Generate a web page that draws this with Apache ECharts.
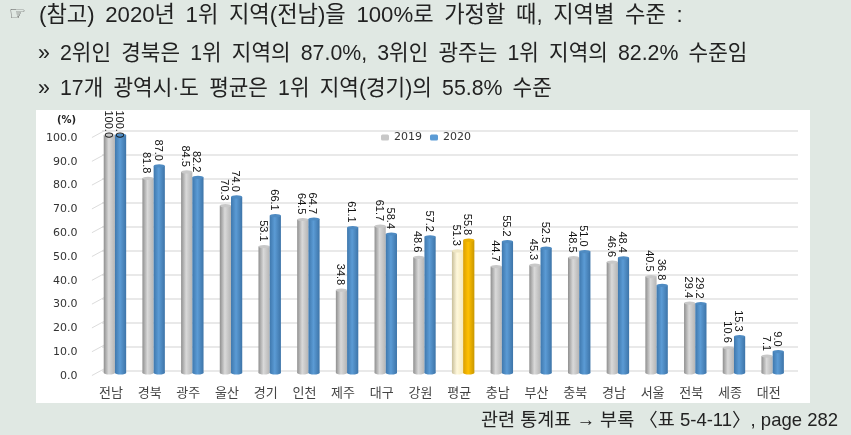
<!DOCTYPE html>
<html>
<head>
<meta charset="utf-8">
<style>html,body{margin:0;padding:0;background:#e0e8e3}#chart{width:851px;height:435px}</style>
<script src="https://cdn.jsdelivr.net/npm/echarts@6/dist/echarts.min.js"></script>
</head>
<body>
<div id="chart"></div>
<script>
const categories = ['전남','경북','광주','울산','경기','인천','제주','대구','강원','평균','충남','부산','충북','경남','서울','전북','세종','대전'];
const values2019 = [100.0,81.8,84.5,70.3,53.1,64.5,34.8,61.7,48.6,51.3,44.7,45.3,48.5,46.6,40.5,29.4,10.6,7.1];
const values2020 = [100.0,87.0,82.2,74.0,66.1,64.7,61.1,58.4,57.2,55.8,55.2,52.5,51.0,48.4,36.8,29.2,15.3,9.0];
const yTicks = [0,10,20,30,40,50,60,70,80,90,100];
// word gaps in the heading are wider than one space
const gap = ' \u2009';
const headLines = [
  ['(참고)','2020년','1위','지역(전남)을','100%로','가정할','때,','지역별','수준',':'].join(gap),
  ['»','2위인','경북은','1위','지역의','87.0%,','3위인','광주는','1위','지역의','82.2%','수준임'].join(gap),
  ['»','17개','광역시·도','평균은','1위','지역(경기)의','55.8%','수준'].join(gap)
];
const footNote = '관련 통계표 → 부록 〈표 5-4-11〉, page 282';

const KR = '"Noto Sans CJK KR","Noto Sans",sans-serif';
const HEAD = '"Liberation Sans","Noto Sans CJK KR",sans-serif';
const chart = echarts.init(document.getElementById('chart'));

function cylinder(params, api, side, colors) {
  const idx = api.value(0);
  const band = api.size([1, 0])[0];
  const w = band * 0.29;
  const base = api.coord([idx, 0]);
  const top = api.coord([idx, api.value(1)]);
  const x = side < 0 ? base[0] - w : base[0];
  const val = api.value(1);
  const c = colors(categories[idx]);
  const fill = new echarts.graphic.LinearGradient(0, 0, 1, 0, [
    {offset: 0, color: c[0]},
    {offset: 0.45, color: c[1]},
    {offset: 1, color: c[2]}
  ]);
  return {
    type: 'group',
    children: [
      {type: 'rect', shape: {x: x, y: top[1], width: w, height: base[1] - top[1]}, style: {fill: fill}},
      {type: 'ellipse', shape: {cx: x + w / 2, cy: base[1], rx: w / 2, ry: 1.5}, style: {fill: fill}},
      {type: 'ellipse', shape: {cx: x + w / 2, cy: top[1], rx: w / 2, ry: 1.6}, style: {fill: c[3]}},
      {
        type: 'text',
        x: x + w / 2 - 1.5,
        // tallest labels stay inside the white panel and overlap the bar top
        y: Math.max(top[1] - 5, 138),
        z2: 10,
        rotation: -Math.PI / 2,
        style: {
          text: val.toFixed(1),
          fill: '#111',
          font: '11px "Liberation Sans",sans-serif',
          align: 'right',
          verticalAlign: 'middle'
        }
      }
    ]
  };
}

const color2019 = name => name === '평균'
  ? ['#c9bf9a', '#fff8dc', '#f5e9bb', '#efe6c4']
  : ['#8f8f8f', '#d9d9d9', '#b5b5b5', '#c8c8c8'];
const color2020 = name => name === '평균'
  ? ['#d99e00', '#ffc000', '#c99700', '#e8ae00']
  : ['#3f78ad', '#5b9bd5', '#3d74a8', '#4f8bc2'];

const option = {
  animation: false,
  backgroundColor: '#e0e8e3',
  textStyle: {fontFamily: KR},
  legend: {
    top: 127,
    left: 376,
    itemWidth: 8,
    itemHeight: 6,
    itemGap: 8,
    data: ['2019', '2020'],
    textStyle: {fontSize: 11, color: '#333', fontFamily: '"DejaVu Sans",sans-serif'}
  },
  grid: [
    {left: 95.6, right: 59, top: 135, height: 238},
    {left: 102, right: 53, top: 131, height: 239.7}
  ],
  xAxis: [
    {
      type: 'category', gridIndex: 0, data: categories,
      axisLine: {show: false}, axisTick: {show: false},
      axisLabel: {color: '#444', fontSize: 13, margin: 13, interval: 0, fontFamily: KR, padding: [0, 8, 0, 0]}
    },
    {type: 'category', gridIndex: 1, data: categories, show: false}
  ],
  yAxis: [
    {
      type: 'value', gridIndex: 0, min: 0, max: 100, interval: 10,
      axisLine: {show: false}, axisTick: {show: false}, splitLine: {show: false},
      axisLabel: {color: '#333', fontSize: 11, margin: 18, verticalAlign: 'top', lineHeight: 6, fontFamily: '"DejaVu Sans",sans-serif', formatter: v => v.toFixed(1)}
    },
    {
      type: 'value', gridIndex: 1, min: 0, max: 100, interval: 10,
      axisLine: {show: false}, axisTick: {show: false}, axisLabel: {show: false},
      splitLine: {show: true, lineStyle: {color: '#e2e2e2', width: 1.5}}
    }
  ],
  series: [
    {
      type: 'custom', name: 'ticks', xAxisIndex: 0, yAxisIndex: 0, silent: true, z: 1,
      data: yTicks.map(v => [0, v]),
      renderItem: (params, api) => {
        const p = api.coord([0, api.value(1)]);
        return {type: 'line', shape: {x1: p[0] - 23, y1: p[1] + 2.5, x2: p[0] - 11, y2: p[1] - 4}, style: {stroke: '#dcdcdc', lineWidth: 1}};
      }
    },
    {
      type: 'custom', name: '2019', xAxisIndex: 0, yAxisIndex: 0, z: 3,
      itemStyle: {color: '#c8c8c8'},
      data: values2019.map((v, i) => [i, v]),
      encode: {x: 0, y: 1},
      renderItem: (params, api) => cylinder(params, api, -1, color2019)
    },
    {
      type: 'custom', name: '2020', xAxisIndex: 0, yAxisIndex: 0, z: 3,
      itemStyle: {color: '#5b9bd5'},
      data: values2020.map((v, i) => [i, v]),
      encode: {x: 0, y: 1},
      renderItem: (params, api) => cylinder(params, api, 1, color2020)
    }
  ],
  graphic: [
    {type: 'rect', z: -10, silent: true, shape: {x: 36, y: 110, width: 774, height: 293}, style: {fill: '#fff'}},
    {type: 'text', left: 9, top: 6, z: 5, style: {text: '☞', fill: '#555', font: '19px "DejaVu Sans",sans-serif'}},
    {type: 'text', left: 39, top: 5, z: 5, style: {text: headLines[0], fill: '#222', font: '22.2px ' + HEAD}},
    {type: 'text', left: 38, top: 43, z: 5, style: {text: headLines[1], fill: '#222', font: '21.3px ' + HEAD}},
    {type: 'text', left: 38, top: 78, z: 5, style: {text: headLines[2], fill: '#222', font: '21.3px ' + HEAD}},
    {type: 'text', left: 57, top: 115, z: 5, style: {text: '(%)', fill: '#222', font: 'bold 10px "DejaVu Sans",sans-serif'}},
    {type: 'text', right: 13, top: 412, z: 5, style: {text: footNote, fill: '#222', font: '18.5px ' + HEAD}}
  ]
};
chart.setOption(option);
</script>
</body>
</html>
